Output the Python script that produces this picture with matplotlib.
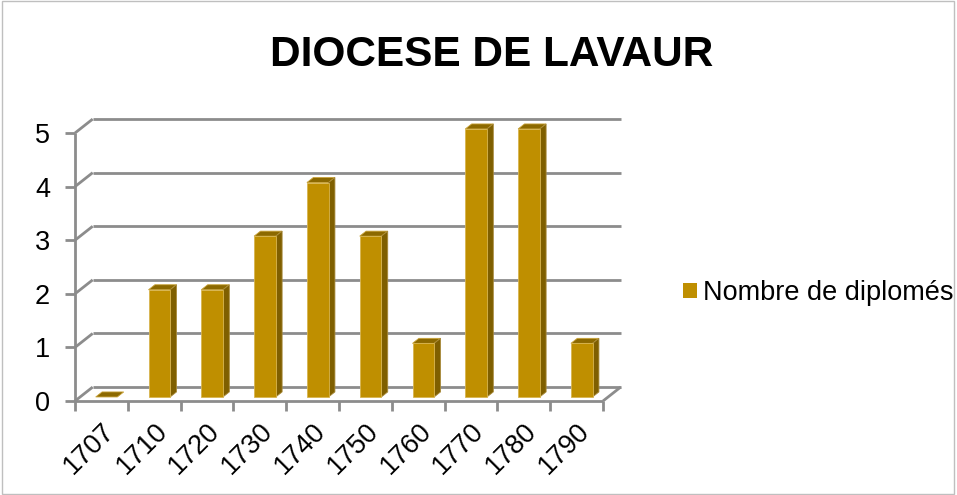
"""
Diocese de Lavaur - 3D-look column chart
"""

import matplotlib
matplotlib.use("Agg")
import matplotlib.pyplot as plt
from matplotlib.patches import Polygon, Patch, Rectangle

years = ["1707", "1710", "1720", "1730", "1740", "1750", "1760", "1770", "1780", "1790"]
diplomes = [0, 2, 2, 3, 4, 3, 1, 5, 5, 1]
y_ticks = [0, 1, 2, 3, 4, 5]

FRONT = "#BF8F00"
SIDE = "#7F5F00"
TOP = "#8C6900"
GRID = "#8C8C8C"

# depth of the fake 3D box, in data units
DX, DY = 0.335, 0.26
F0, F1 = 0.29, 0.65     # bar front / back depth fraction
BAR_W = 0.41

plt.rcParams["font.family"] = ["Liberation Sans", "DejaVu Sans"]

fig = plt.figure(figsize=(9.57, 4.95), dpi=100)
W, H = 957, 495
ax = fig.add_axes([75 / W, (H - 401) / H, 528 / W, 268 / H])
n = len(years)
ax.set_xlim(0, n)
ax.set_ylim(0, 5)
for s in ax.spines.values():
    s.set_visible(False)


def line(xs, ys, **kw):
    ax.plot(xs, ys, color=GRID, lw=2, clip_on=False, solid_capstyle="butt", **kw)


# back wall gridlines + left wall diagonals
for v in y_ticks:
    line([DX, n + DX], [v + DY, v + DY], zorder=1)
    line([0, DX], [v, v + DY], zorder=1)
# floor
line([0, n], [0, 0], zorder=1)
line([n, n + DX], [0, DY], zorder=1)
line([0, 0], [0, 5], zorder=1)

# bars
for i, v in enumerate(diplomes):
    x0 = i + (1 - BAR_W) / 2 + F0 * DX
    x1 = x0 + BAR_W
    y0 = F0 * DY
    ddx = (F1 - F0) * DX
    ddy = (F1 - F0) * DY
    top = [(x0, y0 + v), (x1, y0 + v), (x1 + ddx, y0 + v + ddy), (x0 + ddx, y0 + v + ddy)]
    ax.add_patch(Polygon(top, closed=True, fc=TOP, ec="#C9A33A", lw=0.6, zorder=3, clip_on=False))
    if v > 0:
        side = [(x1, y0), (x1 + ddx, y0 + ddy), (x1 + ddx, y0 + v + ddy), (x1, y0 + v)]
        ax.add_patch(Polygon(side, closed=True, fc=SIDE, ec="#A88A3A", lw=0.6, zorder=3, clip_on=False))
        ax.add_patch(Rectangle((x0, y0), BAR_W, v, fc=FRONT, ec="#D8B550", lw=0.6, zorder=4, clip_on=False))

# ticks
ax.set_yticks(y_ticks)
ax.set_yticklabels([str(t) for t in y_ticks], fontsize=19.5)
ax.tick_params(axis="y", length=7, width=2, color=GRID, pad=11)
ax.set_xticks(range(n + 1))
ax.set_xticklabels([])
ax.tick_params(axis="x", which="major", length=7, width=2, color=GRID)
ax.set_xticks([i + 0.5 for i in range(n)], minor=True)
ax.set_xticklabels(years, minor=True, rotation=45, ha="right", rotation_mode="anchor", fontsize=19.5)
ax.tick_params(axis="x", which="minor", length=0, pad=12)

fig.text(492 / W, 1 - 55 / H, "DIOCESE DE LAVAUR", ha="center", va="center",
         fontsize=30.5, fontweight="bold")

fig.legend(handles=[Patch(fc=FRONT, ec="none", label="Nombre de diplomés")],
           loc="center left", bbox_to_anchor=(683 / W, 1 - 293 / H), frameon=False,
           fontsize=19.5, handlelength=0.5, handleheight=0.5, handletextpad=0.25,
           borderpad=0, borderaxespad=0)

fig.add_artist(Rectangle((0.002, 0.003), 0.995, 0.994, transform=fig.transFigure,
                         fill=False, ec="#BFBFBF", lw=1))

fig.savefig("out.png", dpi=100)
